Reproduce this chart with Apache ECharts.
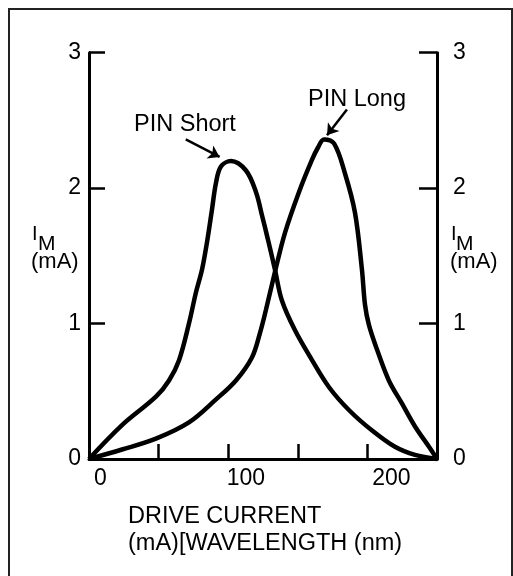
<!DOCTYPE html>
<html>
<head>
<meta charset="utf-8">
<script src="https://cdn.jsdelivr.net/npm/echarts@6/dist/echarts.min.js"></script>
<style>
html,body{margin:0;padding:0;background:#fff;}
#c{width:513px;height:576px;}
</style>
</head>
<body>
<div id="c"></div>
<script>
// ---- data ----
const xLabelValues = [0, 100, 200];
const yTickValues = [0, 1, 2, 3];

const shortX = [-7.9, 14.8, 38.1, 47.1, 54.0, 60.8, 65.6, 69.8, 73.2, 76.6, 79.4, 82.8, 89.7, 100.0, 106.9, 111.0, 115.1, 119.9, 124.7, 133.7, 145.4, 157.1, 170.9, 186.7, 202.4, 216.2, 231.3];
const shortY = [0, 0.25, 0.46, 0.58, 0.73, 1.00, 1.23, 1.40, 1.60, 1.84, 2.04, 2.16, 2.20, 2.13, 1.97, 1.80, 1.62, 1.40, 1.17, 0.95, 0.73, 0.53, 0.36, 0.21, 0.09, 0.03, 0];

const longX = [-7.9, 14.8, 38.1, 60.8, 79.4, 93.1, 104.1, 109.6, 113.7, 119.9, 126.8, 136.4, 145.4, 149.5, 153.6, 160.5, 168.0, 174.9, 179.7, 181.8, 184.5, 190.0, 198.2, 207.2, 216.2, 225.8, 231.3];
const longY = [0, 0.07, 0.15, 0.27, 0.44, 0.58, 0.75, 0.93, 1.10, 1.38, 1.67, 1.97, 2.21, 2.30, 2.36, 2.33, 2.11, 1.82, 1.40, 1.14, 0.99, 0.81, 0.58, 0.41, 0.24, 0.09, 0];

const shortArrow = [[58.6, 2.36], [81.9, 2.23]];
const longArrow = [[169.4, 2.58], [155.7, 2.39]];

const seriesNames = ['PIN Short', 'PIN Long'];
const xTitle = ['DRIVE CURRENT', '(mA)[WAVELENGTH (nm)'];
const yTitleMain = 'I';
const yTitleSub = 'M';
const yTitleUnit = '(mA)';

// ---- chart ----
const FONT = '"Liberation Sans", Arial, Helvetica, sans-serif';
const zip = (a, b) => a.map((v, i) => [v, b[i]]);

const chart = echarts.init(document.getElementById('c'), null, {renderer: 'canvas'});

function yAxisCfg(pos, tickLen, margin) {
  return {
    type: 'value', position: pos, min: 0, max: 3, interval: 1,
    axisLine: {show: true, onZero: false, lineStyle: {color: '#000', width: 3}},
    axisTick: {show: true, inside: true, length: tickLen, lineStyle: {color: '#000', width: 2.5}},
    axisLabel: {show: true, color: '#000', fontSize: 23, fontFamily: FONT, margin: margin,
      formatter: v => yTickValues.includes(v) ? String(v) : ''},
    splitLine: {show: false}
  };
}

function arrowLine(pts) {
  return {
    silent: true, symbol: ['none', 'arrow'], symbolSize: 11,
    lineStyle: {color: '#000', width: 2.5, type: 'solid'},
    label: {show: false},
    emphasis: {disabled: true},
    data: [[{coord: pts[0]}, {coord: pts[1]}]]
  };
}

const option = {
  backgroundColor: '#fff',
  animation: false,
  grid: {left: 89, right: 76, top: 52.7, bottom: 117, containLabel: false},
  xAxis: [
    {
      type: 'value', position: 'bottom', min: 0, max: 250, interval: 50,
      axisLine: {show: true, onZero: false, lineStyle: {color: '#000', width: 3}},
      axisTick: {show: true, inside: true, length: 15, lineStyle: {color: '#000', width: 2.5}},
      axisLabel: {show: false}, splitLine: {show: false}
    },
    {
      type: 'value', position: 'bottom', offset: 0, min: -7.9, max: 231.3,
      axisLine: {show: false, onZero: false}, axisTick: {show: false}, splitLine: {show: false},
      axisLabel: {show: true, color: '#000', fontSize: 23, fontFamily: FONT, margin: 8, customValues: xLabelValues}
    }
  ],
  yAxis: [yAxisCfg('left', 16, 8), yAxisCfg('right', 18, 16)],
  series: [
    {
      name: seriesNames[0], type: 'line', xAxisIndex: 1, yAxisIndex: 0,
      data: zip(shortX, shortY), showSymbol: false, symbol: 'none', smooth: 0.35, clip: false,
      lineStyle: {color: '#000', width: 4.5}, markLine: arrowLine(shortArrow)
    },
    {
      name: seriesNames[1], type: 'line', xAxisIndex: 1, yAxisIndex: 0,
      data: zip(longX, longY), showSymbol: false, symbol: 'none', smooth: 0.35, clip: false,
      lineStyle: {color: '#000', width: 4.5}, markLine: arrowLine(longArrow)
    }
  ],
  graphic: [
    {type: 'rect', shape: {x: 9, y: 9, width: 503, height: 590}, style: {fill: 'none', stroke: '#222', lineWidth: 2}, silent: true},
    {type: 'text', x: 134, y: 113, style: {text: seriesNames[0], font: '23.5px ' + FONT, fill: '#000', textAlign: 'left', textVerticalAlign: 'top'}},
    {type: 'text', x: 308, y: 88, style: {text: seriesNames[1], font: '23.5px ' + FONT, fill: '#000', textAlign: 'left', textVerticalAlign: 'top'}},
    {type: 'text', x: 128, y: 505, style: {text: xTitle[0], font: '23.5px ' + FONT, fill: '#000', textAlign: 'left', textVerticalAlign: 'top'}},
    {type: 'text', x: 128, y: 532, style: {text: xTitle[1], font: '23.5px ' + FONT, fill: '#000', textAlign: 'left', textVerticalAlign: 'top'}},
    {type: 'text', x: 32, y: 224, style: {text: yTitleMain, font: '20px ' + FONT, fill: '#000', textVerticalAlign: 'top'}},
    {type: 'text', x: 38, y: 234, style: {text: yTitleSub, font: '21px ' + FONT, fill: '#000', textVerticalAlign: 'top'}},
    {type: 'text', x: 31, y: 251, style: {text: yTitleUnit, font: '22px ' + FONT, fill: '#000', textVerticalAlign: 'top'}},
    {type: 'text', x: 451, y: 224, style: {text: yTitleMain, font: '20px ' + FONT, fill: '#000', textVerticalAlign: 'top'}},
    {type: 'text', x: 456, y: 234, style: {text: yTitleSub, font: '21px ' + FONT, fill: '#000', textVerticalAlign: 'top'}},
    {type: 'text', x: 450, y: 251, style: {text: yTitleUnit, font: '22px ' + FONT, fill: '#000', textVerticalAlign: 'top'}}
  ]
};
chart.setOption(option);
</script>
</body>
</html>
